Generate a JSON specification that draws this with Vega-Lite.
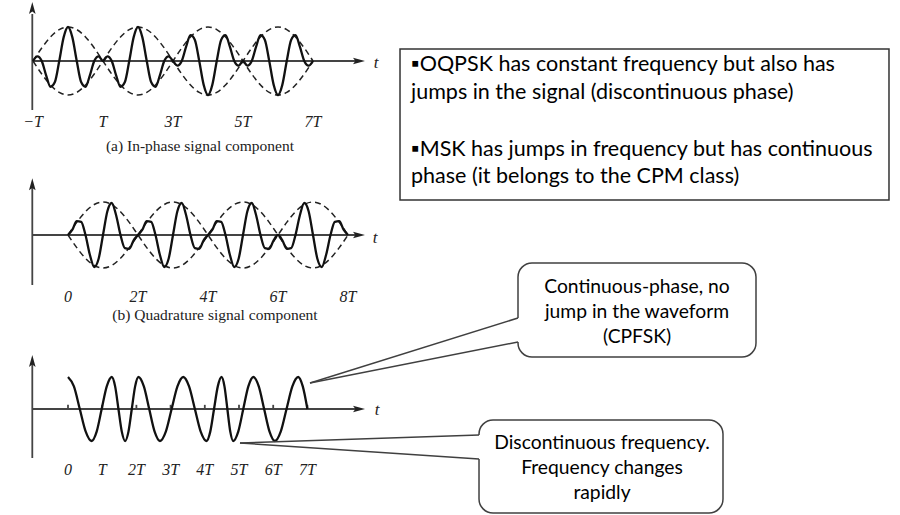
{
"$schema":"https://vega.github.io/schema/vega-lite/v6.json",
"width":900,"height":515,
"autosize":{"type":"fit","contains":"padding"},
"padding":0,
"background":"white",
"config":{"view":{"stroke":null}},
"datasets":{
"a_wave":[{"t":-1,"v":0},{"t":-0.875,"v":0.138},{"t":-0.75,"v":0},{"t":-0.625,"v":-0.42},{"t":-0.5,"v":-0.76},{"t":-0.375,"v":-0.62},{"t":-0.25,"v":0},{"t":-0.125,"v":0.694},{"t":0,"v":1},{"t":0.125,"v":0.694},{"t":0.25,"v":0},{"t":0.375,"v":-0.62},{"t":0.5,"v":-0.76},{"t":0.625,"v":-0.42},{"t":0.75,"v":0},{"t":0.875,"v":0.138},{"t":1,"v":0},
{"t":1.125,"v":0.138},{"t":1.25,"v":0},{"t":1.375,"v":-0.42},{"t":1.5,"v":-0.76},{"t":1.625,"v":-0.62},{"t":1.75,"v":0},{"t":1.875,"v":0.694},{"t":2,"v":1},{"t":2.125,"v":0.694},{"t":2.25,"v":0},{"t":2.375,"v":-0.62},{"t":2.5,"v":-0.76},{"t":2.625,"v":-0.42},{"t":2.75,"v":0},{"t":2.875,"v":0.138},{"t":3,"v":0},
{"t":3.125,"v":-0.138},{"t":3.25,"v":0},{"t":3.375,"v":0.42},{"t":3.5,"v":0.76},{"t":3.625,"v":0.62},{"t":3.75,"v":0},{"t":3.875,"v":-0.694},{"t":4,"v":-1},{"t":4.125,"v":-0.694},{"t":4.25,"v":0},{"t":4.375,"v":0.62},{"t":4.5,"v":0.76},{"t":4.625,"v":0.42},{"t":4.75,"v":0},{"t":4.875,"v":-0.138},{"t":5,"v":0},
{"t":5.125,"v":-0.138},{"t":5.25,"v":0},{"t":5.375,"v":0.42},{"t":5.5,"v":0.76},{"t":5.625,"v":0.62},{"t":5.75,"v":0},{"t":5.875,"v":-0.694},{"t":6,"v":-1},{"t":6.125,"v":-0.694},{"t":6.25,"v":0},{"t":6.375,"v":0.62},{"t":6.5,"v":0.76},{"t":6.625,"v":0.42},{"t":6.75,"v":0},{"t":6.875,"v":-0.138},{"t":7,"v":0}],
"a_env":[{"s":"p","t":-1,"v":0},{"s":"p","t":-0.75,"v":0.383},{"s":"p","t":-0.5,"v":0.707},{"s":"p","t":-0.25,"v":0.924},{"s":"p","t":0,"v":1},{"s":"p","t":0.25,"v":0.924},{"s":"p","t":0.5,"v":0.707},{"s":"p","t":0.75,"v":0.383},{"s":"p","t":1,"v":0},{"s":"p","t":1.25,"v":-0.383},{"s":"p","t":1.5,"v":-0.707},{"s":"p","t":1.75,"v":-0.924},{"s":"p","t":2,"v":-1},{"s":"p","t":2.25,"v":-0.924},{"s":"p","t":2.5,"v":-0.707},{"s":"p","t":2.75,"v":-0.383},{"s":"p","t":3,"v":0},{"s":"p","t":3.25,"v":0.383},{"s":"p","t":3.5,"v":0.707},{"s":"p","t":3.75,"v":0.924},{"s":"p","t":4,"v":1},{"s":"p","t":4.25,"v":0.924},{"s":"p","t":4.5,"v":0.707},{"s":"p","t":4.75,"v":0.383},{"s":"p","t":5,"v":0},{"s":"p","t":5.25,"v":-0.383},{"s":"p","t":5.5,"v":-0.707},{"s":"p","t":5.75,"v":-0.924},{"s":"p","t":6,"v":-1},{"s":"p","t":6.25,"v":-0.924},{"s":"p","t":6.5,"v":-0.707},{"s":"p","t":6.75,"v":-0.383},{"s":"p","t":7,"v":0},
{"s":"n","t":-1,"v":0},{"s":"n","t":-0.75,"v":-0.383},{"s":"n","t":-0.5,"v":-0.707},{"s":"n","t":-0.25,"v":-0.924},{"s":"n","t":0,"v":-1},{"s":"n","t":0.25,"v":-0.924},{"s":"n","t":0.5,"v":-0.707},{"s":"n","t":0.75,"v":-0.383},{"s":"n","t":1,"v":0},{"s":"n","t":1.25,"v":0.383},{"s":"n","t":1.5,"v":0.707},{"s":"n","t":1.75,"v":0.924},{"s":"n","t":2,"v":1},{"s":"n","t":2.25,"v":0.924},{"s":"n","t":2.5,"v":0.707},{"s":"n","t":2.75,"v":0.383},{"s":"n","t":3,"v":0},{"s":"n","t":3.25,"v":-0.383},{"s":"n","t":3.5,"v":-0.707},{"s":"n","t":3.75,"v":-0.924},{"s":"n","t":4,"v":-1},{"s":"n","t":4.25,"v":-0.924},{"s":"n","t":4.5,"v":-0.707},{"s":"n","t":4.75,"v":-0.383},{"s":"n","t":5,"v":0},{"s":"n","t":5.25,"v":0.383},{"s":"n","t":5.5,"v":0.707},{"s":"n","t":5.75,"v":0.924},{"s":"n","t":6,"v":1},{"s":"n","t":6.25,"v":0.924},{"s":"n","t":6.5,"v":0.707},{"s":"n","t":6.75,"v":0.383},{"s":"n","t":7,"v":0}],
"b_wave":[{"t":0,"v":0},{"t":0.125,"v":0.16},{"t":0.25,"v":0.42},{"t":0.375,"v":0.4},{"t":0.5,"v":0},{"t":0.625,"v":-0.6},{"t":0.75,"v":-0.97},{"t":0.875,"v":-0.72},{"t":1,"v":0},{"t":1.125,"v":0.72},{"t":1.25,"v":0.97},{"t":1.375,"v":0.6},{"t":1.5,"v":0},{"t":1.625,"v":-0.4},{"t":1.75,"v":-0.42},{"t":1.875,"v":-0.16},{"t":2,"v":0},
{"t":2.125,"v":0.16},{"t":2.25,"v":0.42},{"t":2.375,"v":0.4},{"t":2.5,"v":0},{"t":2.625,"v":-0.6},{"t":2.75,"v":-0.97},{"t":2.875,"v":-0.72},{"t":3,"v":0},{"t":3.125,"v":0.72},{"t":3.25,"v":0.97},{"t":3.375,"v":0.6},{"t":3.5,"v":0},{"t":3.625,"v":-0.4},{"t":3.75,"v":-0.42},{"t":3.875,"v":-0.16},{"t":4,"v":0},
{"t":4.125,"v":0.16},{"t":4.25,"v":0.42},{"t":4.375,"v":0.4},{"t":4.5,"v":0},{"t":4.625,"v":-0.6},{"t":4.75,"v":-0.97},{"t":4.875,"v":-0.72},{"t":5,"v":0},{"t":5.125,"v":0.72},{"t":5.25,"v":0.97},{"t":5.375,"v":0.6},{"t":5.5,"v":0},{"t":5.625,"v":-0.4},{"t":5.75,"v":-0.42},{"t":5.875,"v":-0.16},{"t":6,"v":0},
{"t":6.125,"v":-0.16},{"t":6.25,"v":-0.42},{"t":6.375,"v":-0.4},{"t":6.5,"v":0},{"t":6.625,"v":0.6},{"t":6.75,"v":0.97},{"t":6.875,"v":0.72},{"t":7,"v":0},{"t":7.125,"v":-0.72},{"t":7.25,"v":-0.97},{"t":7.375,"v":-0.6},{"t":7.5,"v":0},{"t":7.625,"v":0.4},{"t":7.75,"v":0.42},{"t":7.875,"v":0.16},{"t":8,"v":0}],
"b_env":[{"s":"p","t":0,"v":0},{"s":"p","t":0.25,"v":0.383},{"s":"p","t":0.5,"v":0.707},{"s":"p","t":0.75,"v":0.924},{"s":"p","t":1,"v":1},{"s":"p","t":1.25,"v":0.924},{"s":"p","t":1.5,"v":0.707},{"s":"p","t":1.75,"v":0.383},{"s":"p","t":2,"v":0},{"s":"p","t":2.25,"v":-0.383},{"s":"p","t":2.5,"v":-0.707},{"s":"p","t":2.75,"v":-0.924},{"s":"p","t":3,"v":-1},{"s":"p","t":3.25,"v":-0.924},{"s":"p","t":3.5,"v":-0.707},{"s":"p","t":3.75,"v":-0.383},{"s":"p","t":4,"v":0},{"s":"p","t":4.25,"v":0.383},{"s":"p","t":4.5,"v":0.707},{"s":"p","t":4.75,"v":0.924},{"s":"p","t":5,"v":1},{"s":"p","t":5.25,"v":0.924},{"s":"p","t":5.5,"v":0.707},{"s":"p","t":5.75,"v":0.383},{"s":"p","t":6,"v":0},{"s":"p","t":6.25,"v":-0.383},{"s":"p","t":6.5,"v":-0.707},{"s":"p","t":6.75,"v":-0.924},{"s":"p","t":7,"v":-1},{"s":"p","t":7.25,"v":-0.924},{"s":"p","t":7.5,"v":-0.707},{"s":"p","t":7.75,"v":-0.383},{"s":"p","t":8,"v":0},
{"s":"n","t":0,"v":0},{"s":"n","t":0.25,"v":-0.383},{"s":"n","t":0.5,"v":-0.707},{"s":"n","t":0.75,"v":-0.924},{"s":"n","t":1,"v":-1},{"s":"n","t":1.25,"v":-0.924},{"s":"n","t":1.5,"v":-0.707},{"s":"n","t":1.75,"v":-0.383},{"s":"n","t":2,"v":0},{"s":"n","t":2.25,"v":0.383},{"s":"n","t":2.5,"v":0.707},{"s":"n","t":2.75,"v":0.924},{"s":"n","t":3,"v":1},{"s":"n","t":3.25,"v":0.924},{"s":"n","t":3.5,"v":0.707},{"s":"n","t":3.75,"v":0.383},{"s":"n","t":4,"v":0},{"s":"n","t":4.25,"v":-0.383},{"s":"n","t":4.5,"v":-0.707},{"s":"n","t":4.75,"v":-0.924},{"s":"n","t":5,"v":-1},{"s":"n","t":5.25,"v":-0.924},{"s":"n","t":5.5,"v":-0.707},{"s":"n","t":5.75,"v":-0.383},{"s":"n","t":6,"v":0},{"s":"n","t":6.25,"v":0.383},{"s":"n","t":6.5,"v":0.707},{"s":"n","t":6.75,"v":0.924},{"s":"n","t":7,"v":1},{"s":"n","t":7.25,"v":0.924},{"s":"n","t":7.5,"v":0.707},{"s":"n","t":7.75,"v":0.383},{"s":"n","t":8,"v":0}],
"c_wave":[{"t":0,"v":1},{"t":0.173,"v":0.707},{"t":0.345,"v":0},{"t":0.518,"v":-0.707},{"t":0.69,"v":-1},{"t":0.838,"v":-0.707},{"t":0.985,"v":0},{"t":1.133,"v":0.707},{"t":1.28,"v":1},{"t":1.378,"v":0.707},{"t":1.475,"v":0},{"t":1.573,"v":-0.707},{"t":1.67,"v":-1},{"t":1.768,"v":-0.707},{"t":1.865,"v":0},{"t":1.963,"v":0.707},{"t":2.06,"v":1},{"t":2.218,"v":0.707},{"t":2.375,"v":0},{"t":2.533,"v":-0.707},{"t":2.69,"v":-1},{"t":2.86,"v":-0.707},{"t":3.03,"v":0},{"t":3.2,"v":0.707},{"t":3.37,"v":1},{"t":3.54,"v":0.707},{"t":3.71,"v":0},{"t":3.88,"v":-0.707},{"t":4.05,"v":-1},{"t":4.16,"v":-0.707},{"t":4.27,"v":0},{"t":4.38,"v":0.707},{"t":4.49,"v":1},{"t":4.575,"v":0.707},{"t":4.66,"v":0},{"t":4.745,"v":-0.707},{"t":4.83,"v":-1},{"t":4.978,"v":-0.707},{"t":5.125,"v":0},{"t":5.273,"v":0.707},{"t":5.42,"v":1},{"t":5.578,"v":0.707},{"t":5.735,"v":0},{"t":5.893,"v":-0.707},{"t":6.05,"v":-1},{"t":6.22,"v":-0.707},{"t":6.39,"v":0},{"t":6.56,"v":0.707},{"t":6.73,"v":1},{"t":6.865,"v":0.707},{"t":7,"v":0}]
},
"layer":[
{
"encoding":{"x":{"field":"t","type":"quantitative","scale":{"domain":[-1.942857,23.771429],"nice":false,"zero":false},"axis":null},"y":{"field":"v","type":"quantitative","scale":{"domain":[-13.352941,1.794118],"nice":false,"zero":false},"axis":null}},
"layer":[
{"data":{"values":[{"t":-1.02,"v":-1.441,"t2":-1.02,"v2":1.382},{"t":-1.02,"v":0,"t2":8.229,"v2":0}]},"mark":{"type":"rule","stroke":"#444","strokeWidth":1.8},"encoding":{"x2":{"field":"t2"},"y2":{"field":"v2"}}},
{"data":{"values":[{"t":-1.02,"v":1.559,"dir":"up"},{"t":8.314,"v":0,"dir":"right"}]},"mark":{"type":"point","filled":true,"opacity":1,"size":144,"color":"#222","strokeWidth":0},"encoding":{"shape":{"field":"dir","type":"nominal","scale":{"domain":["up","right"],"range":["M0,-1L0.55,1L0,0.6L-0.55,1Z","M1,0L-1,-0.55L-0.6,0L-1,0.55Z"]},"legend":null}}},
{"data":{"values":[{"t":8.8,"v":-0.07,"label":"t"}]},"mark":{"type":"text","font":"Liberation Serif","fontStyle":"italic","fontSize":17,"color":"#222","baseline":"middle","align":"center"},"encoding":{"text":{"field":"label"}}},
{"data":{"name":"a_env"},"mark":{"type":"line","interpolate":"monotone","strokeDash":[6,4],"stroke":"#222","strokeWidth":1.5},"encoding":{"detail":{"field":"s"}}},
{"data":{"name":"a_wave"},"mark":{"type":"line","interpolate":"monotone","stroke":"#111","strokeWidth":2.3}},
{"data":{"values":[{"t":-1,"v":-1.794,"label":"−T"},{"t":1,"v":-1.794,"label":"T"},{"t":3,"v":-1.794,"label":"3T"},{"t":5,"v":-1.794,"label":"5T"},{"t":7,"v":-1.794,"label":"7T"}]},"mark":{"type":"text","font":"Liberation Serif","fontStyle":"italic","fontSize":16,"color":"#222","baseline":"middle","align":"center"},"encoding":{"text":{"field":"label"}}},
{"data":{"values":[{"t":3.771,"v":-2.5,"label":"(a) In-phase signal component"}]},"mark":{"type":"text","font":"Liberation Serif","fontSize":15.5,"color":"#222","baseline":"middle","align":"center"},"encoding":{"text":{"field":"label"}}},
{"data":{"values":[{"t":9.486,"v":0.353,"t2":23.457,"v2":-4.088}]},"mark":{"type":"rect","fill":"white","stroke":"#333","strokeWidth":1.5},"encoding":{"x2":{"field":"t2"},"y2":{"field":"v2"}}},
{"data":{"values":[{"t":9.8,"v":-0.118,"label":"▪OQPSK has constant frequency but also has"},{"t":9.8,"v":-0.941,"label":"jumps in the signal (discontinuous phase)"},{"t":9.8,"v":-2.618,"label":"▪MSK has jumps in frequency but has continuous"},{"t":9.8,"v":-3.412,"label":"phase (it belongs to the CPM class)"}]},"mark":{"type":"text","font":"Lato","fontSize":21.5,"color":"#000","baseline":"middle","align":"left"},"encoding":{"text":{"field":"label"}}}
]
},
{
"encoding":{"x":{"field":"t","type":"quantitative","scale":{"domain":[-1.942857,23.771429],"nice":false,"zero":false},"axis":null},"y":{"field":"v","type":"quantitative","scale":{"domain":[-8.484848,7.121212],"nice":false,"zero":false},"axis":null}},
"layer":[
{"data":{"values":[{"t":-1.02,"v":-1.515,"t2":-1.02,"v2":1.455},{"t":-1.02,"v":0,"t2":8.229,"v2":0}]},"mark":{"type":"rule","stroke":"#444","strokeWidth":1.8},"encoding":{"x2":{"field":"t2"},"y2":{"field":"v2"}}},
{"data":{"values":[{"t":-1.02,"v":1.536,"dir":"up"},{"t":8.314,"v":0,"dir":"right"}]},"mark":{"type":"point","filled":true,"opacity":1,"size":144,"color":"#222","strokeWidth":0},"encoding":{"shape":{"field":"dir","type":"nominal","scale":{"domain":["up","right"],"range":["M0,-1L0.55,1L0,0.6L-0.55,1Z","M1,0L-1,-0.55L-0.6,0L-1,0.55Z"]},"legend":null}}},
{"data":{"values":[{"t":8.771,"v":-0.09,"label":"t"}]},"mark":{"type":"text","font":"Liberation Serif","fontStyle":"italic","fontSize":17,"color":"#222","baseline":"middle","align":"center"},"encoding":{"text":{"field":"label"}}},
{"data":{"name":"b_env"},"mark":{"type":"line","interpolate":"monotone","strokeDash":[6,4],"stroke":"#222","strokeWidth":1.5},"encoding":{"detail":{"field":"s"}}},
{"data":{"name":"b_wave"},"mark":{"type":"line","interpolate":"monotone","stroke":"#111","strokeWidth":2.3}},
{"data":{"values":[{"t":0,"v":-1.879,"label":"0"},{"t":2,"v":-1.879,"label":"2T"},{"t":4,"v":-1.879,"label":"4T"},{"t":6,"v":-1.879,"label":"6T"},{"t":8,"v":-1.879,"label":"8T"}]},"mark":{"type":"text","font":"Liberation Serif","fontStyle":"italic","fontSize":16,"color":"#222","baseline":"middle","align":"center"},"encoding":{"text":{"field":"label"}}},
{"data":{"values":[{"t":4.2,"v":-2.424,"label":"(b) Quadrature signal component"}]},"mark":{"type":"text","font":"Liberation Serif","fontSize":15.5,"color":"#222","baseline":"middle","align":"center"},"encoding":{"text":{"field":"label"}}}
]
},
{
"encoding":{"x":{"field":"t","type":"quantitative","scale":{"domain":[-1.988304,24.327485],"nice":false,"zero":false},"axis":null},"y":{"field":"v","type":"quantitative","scale":{"domain":[-3.3125,12.78125],"nice":false,"zero":false},"axis":null}},
"layer":[
{"data":{"values":[{"t":-1.044,"v":-1.531,"t2":-1.044,"v2":1.406},{"t":-1.044,"v":0,"t2":8.421,"v2":0},{"t":0,"v":0,"t2":0,"v2":0.13},{"t":1,"v":0,"t2":1,"v2":0.13},{"t":2,"v":0,"t2":2,"v2":0.13},{"t":3,"v":0,"t2":3,"v2":0.13},{"t":4,"v":0,"t2":4,"v2":0.13},{"t":5,"v":0,"t2":5,"v2":0.13},{"t":6,"v":0,"t2":6,"v2":0.13},{"t":7,"v":0,"t2":7,"v2":0.13}]},"mark":{"type":"rule","stroke":"#444","strokeWidth":1.8},"encoding":{"x2":{"field":"t2"},"y2":{"field":"v2"}}},
{"data":{"values":[{"t":-1.044,"v":1.5,"dir":"up"},{"t":8.509,"v":0,"dir":"right"}]},"mark":{"type":"point","filled":true,"opacity":1,"size":144,"color":"#222","strokeWidth":0},"encoding":{"shape":{"field":"dir","type":"nominal","scale":{"domain":["up","right"],"range":["M0,-1L0.55,1L0,0.6L-0.55,1Z","M1,0L-1,-0.55L-0.6,0L-1,0.55Z"]},"legend":null}}},
{"data":{"values":[{"t":9.035,"v":-0.03,"label":"t"}]},"mark":{"type":"text","font":"Liberation Serif","fontStyle":"italic","fontSize":17,"color":"#222","baseline":"middle","align":"center"},"encoding":{"text":{"field":"label"}}},
{"data":{"name":"c_wave"},"mark":{"type":"line","interpolate":"monotone","stroke":"#111","strokeWidth":2.3}},
{"data":{"values":[{"t":0,"v":-1.906,"label":"0"},{"t":1,"v":-1.906,"label":"T"},{"t":2,"v":-1.906,"label":"2T"},{"t":3,"v":-1.906,"label":"3T"},{"t":4,"v":-1.906,"label":"4T"},{"t":5,"v":-1.906,"label":"5T"},{"t":6,"v":-1.906,"label":"6T"},{"t":7,"v":-1.906,"label":"7T"}]},"mark":{"type":"text","font":"Liberation Serif","fontStyle":"italic","fontSize":16,"color":"#222","baseline":"middle","align":"center"},"encoding":{"text":{"field":"label"}}},
{"data":{"values":[{"t":13.158,"v":4.5625,"t2":20.117,"v2":1.625},{"t":12.018,"v":-0.344,"t2":19.152,"v2":-3.25}]},"mark":{"type":"rect","fill":"white","stroke":"#404040","strokeWidth":1.5,"cornerRadius":14},"encoding":{"x2":{"field":"t2"},"y2":{"field":"v2"}}},
{"data":{"values":[{"t":13.158,"v":2.844,"t2":13.158,"v2":2.094},{"t":12.018,"v":-0.8125,"t2":12.018,"v2":-1.5625}]},"mark":{"type":"rule","stroke":"white","strokeWidth":3},"encoding":{"x2":{"field":"t2"},"y2":{"field":"v2"}}},
{"data":{"values":[{"t":13.158,"v":2.844,"t2":7.076,"v2":0.8125},{"t":13.158,"v":2.094,"t2":7.076,"v2":0.8125},{"t":12.018,"v":-0.8125,"t2":5.029,"v2":-1.0625},{"t":12.018,"v":-1.5625,"t2":5.029,"v2":-1.0625}]},"mark":{"type":"rule","stroke":"#404040","strokeWidth":1.5},"encoding":{"x2":{"field":"t2"},"y2":{"field":"v2"}}},
{"data":{"values":[{"t":16.637,"v":3.8125,"label":"Continuous-phase, no"},{"t":16.637,"v":3.031,"label":"jump in the waveform"},{"t":16.637,"v":2.25,"label":"(CPFSK)"},{"t":15.614,"v":-1.0625,"label":"Discontinuous frequency."},{"t":15.614,"v":-1.844,"label":"Frequency changes"},{"t":15.614,"v":-2.625,"label":"rapidly"}]},"mark":{"type":"text","font":"Lato","fontSize":19.3,"color":"#000","baseline":"middle","align":"center"},"encoding":{"text":{"field":"label"}}}
]
}
],
"resolve":{"scale":{"x":"independent","y":"independent"}}
}
